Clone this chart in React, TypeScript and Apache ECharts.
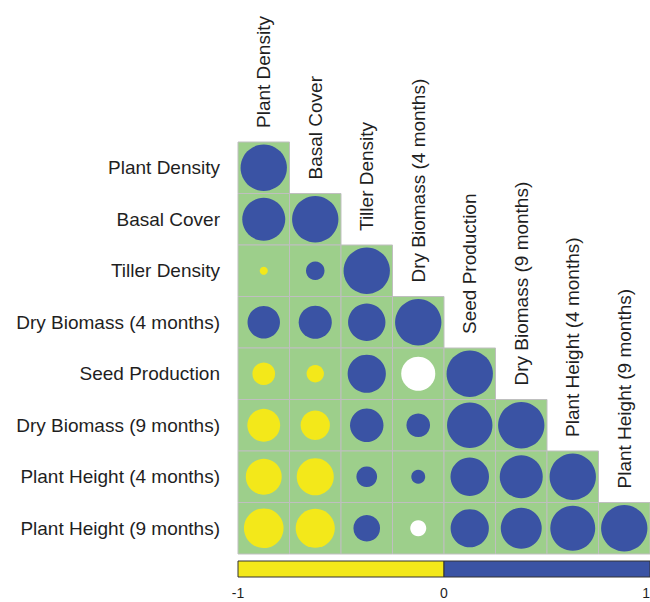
import React, { useEffect, useRef } from "react";
import * as echarts from "echarts";

const variables = [
  "Plant Density",
  "Basal Cover",
  "Tiller Density",
  "Dry Biomass (4 months)",
  "Seed Production",
  "Dry Biomass (9 months)",
  "Plant Height (4 months)",
  "Plant Height (9 months)",
];

// lower-triangle correlation rows (row i holds columns 0..i)
const corrPlantDensity = [1];
const corrBasalCover = [0.86, 1];
const corrTillerDensity = [-0.03, 0.16, 1];
const corrDryBiomass4 = [0.49, 0.51, 0.65, 1];
const corrSeedProduction = [-0.24, -0.14, 0.68, 0.54, 1];
const corrDryBiomass9 = [-0.5, -0.4, 0.52, 0.26, 0.96, 1];
const corrPlantHeight4 = [-0.6, -0.64, 0.2, 0.09, 0.69, 0.86, 1];
const corrPlantHeight9 = [-0.73, -0.71, 0.33, 0.12, 0.68, 0.78, 0.94, 1];

// cells drawn with a white circle: [row, col]
const whiteCells = [
  [4, 3],
  [7, 3],
];

const colorbarTicks = [-1, 0, 1];

const corrRows = [
  corrPlantDensity,
  corrBasalCover,
  corrTillerDensity,
  corrDryBiomass4,
  corrSeedProduction,
  corrDryBiomass9,
  corrPlantHeight4,
  corrPlantHeight9,
];

const GREEN = "#9dcf8b";
const BLUE = "#3a53a4";
const YELLOW = "#f3e81a";
const GRIDLINE = "#bfbfbf";
const TEXT = "#1f1f1f";
const FONT = "'Liberation Sans', Arial, Helvetica, sans-serif";

export default function App() {
  const ref = useRef<HTMLDivElement>(null);

  useEffect(() => {
    document.body.style.margin = "0";
    if (!ref.current) return;
    const chart = echarts.init(ref.current, null, { renderer: "svg" });

    const cellData: any[] = [];
    corrRows.forEach((row, i) => {
      row.forEach((r, j) => {
        const isWhite = whiteCells.some((w) => w[0] === i && w[1] === j) ? 1 : 0;
        cellData.push([j, i, r, isWhite]);
      });
    });

    const labelData = variables.map((_, i) => [i, i]);

    const segData: any[] = [];
    for (let k = 0; k < colorbarTicks.length - 1; k++) {
      segData.push([colorbarTicks[k], colorbarTicks[k + 1]]);
    }

    const option: any = {
      animation: false,
      grid: [
        { left: 238, top: 142, width: 412, height: 412, outerBoundsMode: "none", containLabel: false },
        { left: 238, top: 561, width: 412, height: 16, outerBoundsMode: "none", containLabel: false },
      ],
      xAxis: [
        {
          type: "category",
          gridIndex: 0,
          data: variables,
          axisLabel: { show: false },
          axisLine: { show: false },
          axisTick: { show: false },
          splitLine: { show: false },
        },
        {
          type: "value",
          gridIndex: 1,
          min: -1,
          max: 1,
          interval: 1,
          axisLabel: {
            fontSize: 14,
            margin: 9,
            color: TEXT,
            fontFamily: FONT,
            alignMaxLabel: "right",
          },
          axisLine: { show: false },
          axisTick: { show: false },
          splitLine: { show: false },
        },
      ],
      yAxis: [
        {
          type: "category",
          gridIndex: 0,
          inverse: true,
          data: variables,
          axisLabel: { fontSize: 19, margin: 18, color: TEXT, fontFamily: FONT },
          axisLine: { show: false },
          axisTick: { show: false },
          splitLine: { show: false },
        },
        {
          type: "value",
          gridIndex: 1,
          min: 0,
          max: 1,
          show: false,
        },
      ],
      series: [
        {
          type: "custom",
          xAxisIndex: 0,
          yAxisIndex: 0,
          data: cellData,
          renderItem: (params: any, api: any) => {
            const c = api.coord([api.value(0), api.value(1)]);
            const s = api.size([1, 1]);
            const r = api.value(2) as number;
            const w = api.value(3) as number;
            const rad = 0.45 * Math.min(s[0], s[1]) * Math.sqrt(Math.abs(r));
            return {
              type: "group",
              children: [
                {
                  type: "rect",
                  shape: { x: c[0] - s[0] / 2, y: c[1] - s[1] / 2, width: s[0], height: s[1] },
                  style: { fill: GREEN, stroke: GRIDLINE, lineWidth: 1 },
                },
                {
                  type: "circle",
                  shape: { cx: c[0], cy: c[1], r: rad },
                  style: { fill: w ? "#ffffff" : r < 0 ? YELLOW : BLUE },
                },
              ],
            };
          },
        },
        {
          type: "custom",
          xAxisIndex: 0,
          yAxisIndex: 0,
          data: labelData,
          renderItem: (params: any, api: any) => {
            const idx = api.value(0) as number;
            const c = api.coord([idx, idx]);
            const s = api.size([1, 1]);
            return {
              type: "text",
              x: c[0],
              y: c[1] - s[1] / 2 - 14,
              rotation: Math.PI / 2,
              style: {
                text: variables[idx],
                fontSize: 19,
                fontFamily: FONT,
                fill: TEXT,
                align: "left",
                verticalAlign: "middle",
              },
            };
          },
        },
        {
          type: "custom",
          xAxisIndex: 1,
          yAxisIndex: 1,
          data: segData,
          renderItem: (params: any, api: any) => {
            const a = api.value(0) as number;
            const b = api.value(1) as number;
            const p0 = api.coord([a, 1]);
            const p1 = api.coord([b, 0]);
            return {
              type: "rect",
              shape: { x: p0[0], y: p0[1], width: p1[0] - p0[0], height: p1[1] - p0[1] },
              style: { fill: (a + b) / 2 < 0 ? YELLOW : BLUE, stroke: "#333333", lineWidth: 1 },
            };
          },
        },
      ],
    };

    chart.setOption(option);
    return () => chart.dispose();
  }, []);

  return <div ref={ref} style={{ width: 650, height: 602 }} />;
}
